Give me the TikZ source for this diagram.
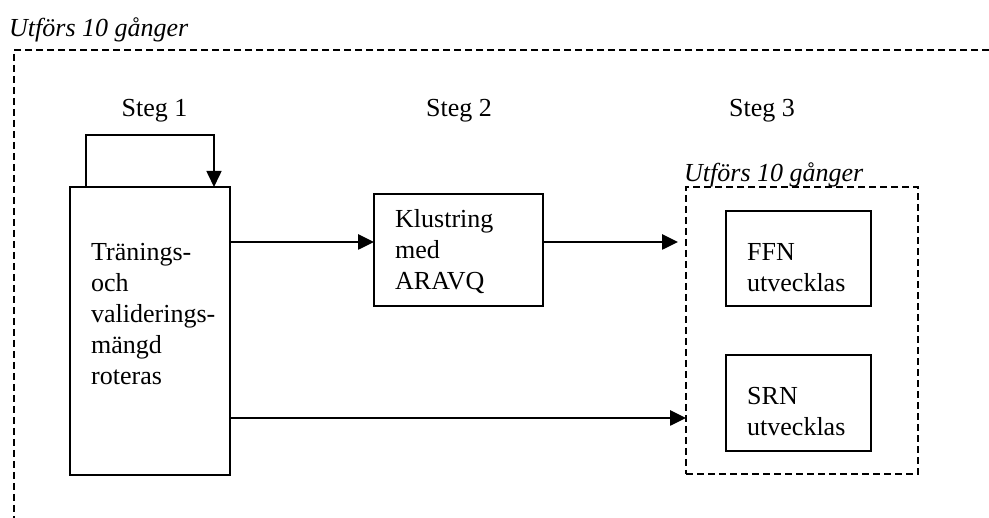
\documentclass[tikz,border=0pt]{standalone}
\usepackage{fontspec}
\setmainfont{Liberation Serif}
\usetikzlibrary{arrows.meta,positioning}
\tikzset{
  stegbox/.style={draw, line width=1.6pt, anchor=north west, inner sep=0pt, outer sep=0pt},
  boxtext/.style={font=\fontsize{26}{31}\selectfont, align=left, inner sep=0pt, anchor=base west},
  rubrik/.style={boxtext, font=\fontsize{26}{31}\selectfont\itshape},
  loopdash/.style={line width=1.8pt, dash pattern=on 7pt off 4pt},
  arrw/.style={-{Triangle[length=16pt,width=15pt]}, line width=2.6pt},
  looparrw/.style={arrw, line width=1.6pt},
}
\begin{document}
\begin{tikzpicture}[x=1pt, y=-1pt]
  \useasboundingbox (0,0) rectangle (989,518);

  % yttre slinga
  \draw[loopdash] (989,50) -- (14,50) -- (14,518);
  \node[rubrik] (yttre) at (9,37) {Utförs 10 gånger};

  \node[boxtext, anchor=base] (steg1) at (154.5,117) {Steg 1};
  \node[boxtext, anchor=base] (steg2) at (459,117) {Steg 2};
  \node[boxtext, anchor=base] (steg3) at (762,117) {Steg 3};

  % base = sista radens baslinje
  \node[stegbox, minimum width=160pt, minimum height=288pt] (rot) at (70,187) {};
  \node[boxtext, below right=198pt and 21pt of rot.north west, anchor=base west] (rottext)
    {Tränings-\\och\\validerings-\\mängd\\roteras};

  \node[stegbox, minimum width=169pt, minimum height=112pt,
    below right=7pt and 144pt of rot.north east] (klus) {};
  \node[boxtext, below right=96pt and 21pt of klus.north west, anchor=base west] (klustext)
    {Klustring\\med\\ARAVQ};

  % inre slinga
  \node[stegbox, loopdash, minimum width=232pt, minimum height=287pt,
    below right=0pt and 456pt of rot.north east] (inre) {};
  \node[rubrik, above right=5pt and -2pt of inre.north west, anchor=base west] (inretitel)
    {Utförs 10 gånger};

  \node[stegbox, minimum width=145pt, minimum height=95pt,
    below right=24pt and 40pt of inre.north west] (ffn) {};
  \node[boxtext, below right=81pt and 21pt of ffn.north west, anchor=base west] (ffntext)
    {FFN\\utvecklas};

  \node[stegbox, minimum width=145pt, minimum height=96pt, below=49pt of ffn] (srn) {};
  \node[boxtext, below right=81pt and 21pt of srn.north west, anchor=base west] (srntext)
    {SRN\\utvecklas};

  \draw[looparrw] ([xshift=16pt]rot.north west) -- ++(0,-52) -| ([xshift=-16pt]rot.north east);
  \draw[arrw] ([yshift=8pt]klus.west -| rot.east) -- ([yshift=8pt]klus.west);
  \draw[arrw, shorten >=8pt] ([yshift=8pt]klus.east) -- ([yshift=8pt]klus.east -| inre.west);
  \draw[arrw] ([yshift=-87.5pt]inre.west -| rot.east) -- ([yshift=-87.5pt]inre.west);
\end{tikzpicture}
\end{document}
